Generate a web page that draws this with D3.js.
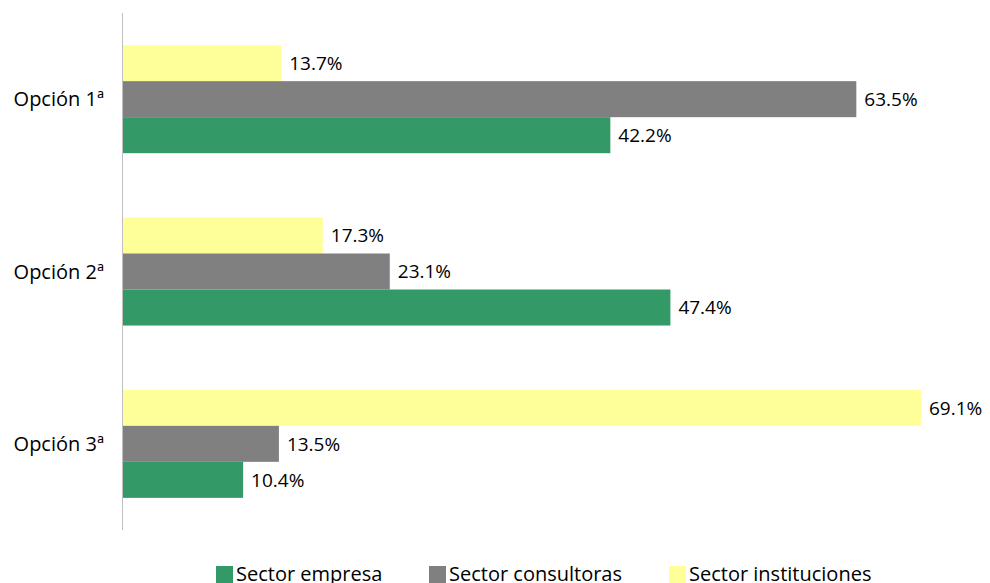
<!DOCTYPE html>
<html>
<head>
  <meta charset="utf-8">
  <script src="https://d3js.org/d3.v7.min.js"></script>
  <style>
    body { margin: 0; background: #fff; }
    text { font-family: "Open Sans", sans-serif; fill: #000; }
  </style>
</head>
<body>
  <script>
    // Chart data
    const categories = ['Opción 1ª', 'Opción 2ª', 'Opción 3ª'];
    const seriesNames = ['Sector instituciones', 'Sector consultoras', 'Sector empresa'];
    const instituciones = [13.7, 17.3, 69.1];
    const consultoras = [63.5, 23.1, 13.5];
    const empresa = [42.2, 47.4, 10.4];
    const colors = ['#FFFF99', '#808080', '#339966'];
    const legendOrder = ['Sector empresa', 'Sector consultoras', 'Sector instituciones'];

    const width = 990;
    const height = 583;

    const svg = d3.select('body').append('svg')
      .attr('width', width)
      .attr('height', height);

    const seriesValues = [instituciones, consultoras, empresa];

    // Scales
    const y0 = d3.scaleBand()
      .domain(categories)
      .range([13, 530])
      .paddingInner(0.373)
      .paddingOuter(0.1865);

    const y1 = d3.scaleBand()
      .domain(seriesNames)
      .range([0, y0.bandwidth()]);

    const x = d3.scaleLinear()
      .domain([0, 69.1])
      .range([123, 921]);

    const color = d3.scaleOrdinal().domain(seriesNames).range(colors);

    // Bars
    const group = svg.selectAll('.group')
      .data(categories)
      .enter().append('g')
      .attr('class', 'group')
      .attr('transform', d => `translate(0,${y0(d)})`);

    const cells = group.selectAll('.bar')
      .data((d, i) => seriesNames.map((s, j) => ({ series: s, value: seriesValues[j][i] })))
      .enter();

    cells.append('rect')
      .attr('x', x(0))
      .attr('y', d => y1(d.series))
      .attr('width', d => x(d.value) - x(0))
      .attr('height', y1.bandwidth())
      .attr('fill', d => color(d.series));

    cells.append('text')
      .attr('x', d => x(d.value) + 8)
      .attr('y', d => y1(d.series) + y1.bandwidth() / 2)
      .attr('dy', '0.36em')
      .style('font-size', '19px')
      .text(d => d.value.toFixed(1) + '%');

    // Axis line
    svg.append('line')
      .attr('x1', 122.5).attr('x2', 122.5)
      .attr('y1', 13).attr('y2', 530)
      .attr('stroke', '#bfbfbf')
      .attr('stroke-width', 1);

    // Category labels
    svg.selectAll('.cat')
      .data(categories)
      .enter().append('text')
      .attr('class', 'cat')
      .attr('x', 104)
      .attr('y', d => y0(d) + y0.bandwidth() / 2)
      .attr('dy', '0.36em')
      .attr('text-anchor', 'end')
      .style('font-size', '20px')
      .text(d => d);

    // Legend
    const legendX = [216, 429, 669];
    const legend = svg.selectAll('.legend')
      .data(legendOrder)
      .enter().append('g')
      .attr('class', 'legend')
      .attr('transform', (d, i) => `translate(${legendX[i]},566)`);

    legend.append('rect')
      .attr('width', 17)
      .attr('height', 17)
      .attr('fill', d => color(d));

    legend.append('text')
      .attr('x', 20)
      .attr('y', 15)
      .style('font-size', '20px')
      .text(d => d);
  </script>
</body>
</html>
